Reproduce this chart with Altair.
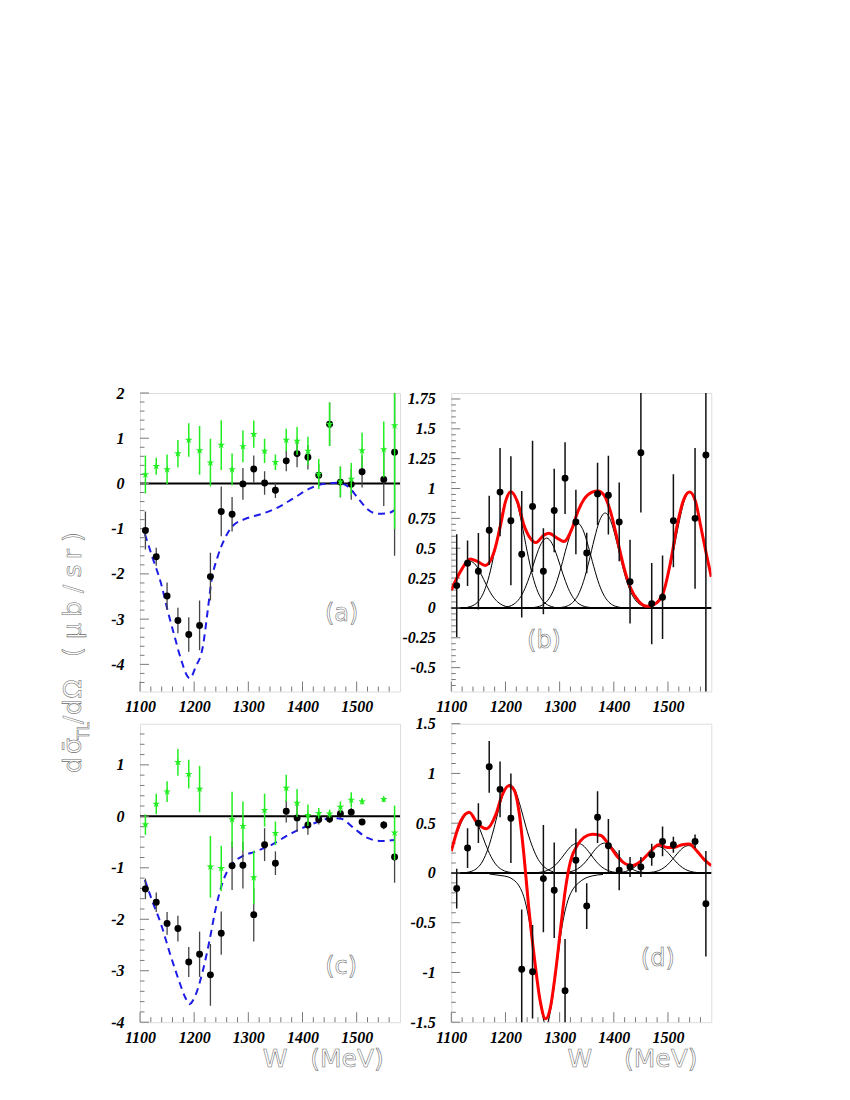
import altair as alt
import pandas as pd

# ---------------- data ----------------
W = [1110, 1130, 1150, 1170, 1190, 1210, 1230, 1250, 1270, 1290, 1310, 1330,
     1350, 1370, 1390, 1410, 1430, 1450, 1470, 1490, 1510, 1550, 1570]

# panel (a)
a_black = [-1.04, -1.62, -2.49, -3.03, -3.34, -3.14, -2.06, -0.62, -0.68, -0.01, 0.32, 0.01,
           -0.15, 0.50, 0.66, 0.58, 0.18, 1.31, 0.03, -0.02, 0.26, 0.09, 0.69]
a_black_err = [0.42, 0.20, 0.30, 0.28, 0.38, 0.55, 0.53, 0.55, 0.38, 0.35, 0.30, 0.26,
               0.17, 0.23, 0.30, 0.27, 0.25, 0.48, 0.34, 0.34, 0.35, 0.59, 2.29]
a_green = [0.20, 0.38, 0.31, 0.66, 0.96, 0.73, 0.46, 0.85, 0.31, 0.82, 1.09, 0.72,
           0.47, 0.96, 0.94, 0.72, 0.21, 1.31, 0.04, 0.10, 0.73, 0.75, 1.28]
a_green_err = [0.42, 0.19, 0.33, 0.30, 0.37, 0.54, 0.53, 0.55, 0.35, 0.35, 0.30, 0.27,
               0.17, 0.25, 0.31, 0.31, 0.33, 0.48, 0.34, 0.35, 0.39, 0.62, 2.28]
a_model_W = [1109, 1123, 1139, 1151, 1164, 1176, 1188, 1192, 1203, 1216, 1225, 1232, 1243,
             1256, 1271, 1293, 1323, 1354, 1385, 1416, 1440, 1465, 1483, 1502, 1520, 1539,
             1557, 1570]
a_model = [-1.12, -1.635, -2.22, -2.81, -3.39, -3.9, -4.27, -4.31, -4.05, -3.61, -2.81, -2.15,
           -1.635, -1.23, -0.94, -0.79, -0.68, -0.536, -0.316, -0.097, -0.009, 0.013, -0.06,
           -0.316, -0.57, -0.67, -0.66, -0.59]

# panel (b)
b_vals = [0.187, 0.374, 0.307, 0.65, 0.97, 0.73, 0.45, 0.85, 0.307, 0.816, 1.087, 0.72,
          0.46, 0.955, 0.944, 0.72, 0.22, 1.30, 0.036, 0.09, 0.73, 0.75, 1.28]
b_err = [0.43, 0.19, 0.32, 0.29, 0.37, 0.54, 0.53, 0.55, 0.36, 0.35, 0.30, 0.27,
         0.17, 0.26, 0.33, 0.33, 0.35, 0.50, 0.34, 0.35, 0.39, 0.59, 2.30]
b_fit_W = [1100, 1117, 1135, 1148, 1163, 1179, 1191, 1200, 1210, 1222, 1234, 1246, 1256,
           1271, 1280, 1296, 1308, 1323, 1333, 1345, 1360, 1371, 1382, 1394, 1406, 1419,
           1431, 1446, 1462, 1474, 1490, 1505, 1517, 1530, 1540, 1551, 1560, 1570, 1580]
b_fit = [0.15, 0.306, 0.41, 0.39, 0.356, 0.47, 0.695, 0.89, 0.973, 0.89, 0.695, 0.583, 0.547,
         0.61, 0.625, 0.583, 0.556, 0.667, 0.80, 0.91, 0.97, 0.98, 0.945, 0.806, 0.583, 0.333,
         0.167, 0.056, 0.014, 0.028, 0.11, 0.39, 0.695, 0.917, 0.97, 0.89, 0.695, 0.47, 0.26]
b_components = [
    ([1100, 1105, 1115, 1125, 1135, 1145, 1155, 1165, 1175, 1185, 1195, 1205, 1215],
     [0.146, 0.19, 0.283, 0.36, 0.39, 0.36, 0.283, 0.19, 0.108, 0.053, 0.022, 0.008, 0.002]),
    ([1130, 1140, 1150, 1160, 1170, 1180, 1190, 1200, 1210, 1220, 1230, 1240, 1250, 1260,
      1270, 1280, 1290],
     [0.006, 0.020, 0.055, 0.132, 0.271, 0.475, 0.708, 0.90, 0.975, 0.90, 0.708, 0.475,
      0.271, 0.132, 0.055, 0.020, 0.006]),
    ([1196, 1206, 1216, 1226, 1236, 1246, 1256, 1266, 1276, 1286, 1296, 1306, 1316, 1326,
      1336, 1346, 1356],
     [0.004, 0.012, 0.033, 0.079, 0.163, 0.285, 0.425, 0.54, 0.585, 0.54, 0.425, 0.285,
      0.163, 0.079, 0.033, 0.012, 0.004]),
    ([1253, 1263, 1273, 1283, 1293, 1303, 1313, 1323, 1333, 1343, 1353, 1363, 1373, 1383,
      1393, 1403, 1413],
     [0.004, 0.014, 0.040, 0.096, 0.197, 0.346, 0.515, 0.655, 0.71, 0.655, 0.515, 0.346,
      0.197, 0.096, 0.040, 0.014, 0.004]),
    ([1304, 1314, 1324, 1334, 1344, 1354, 1364, 1374, 1384, 1394, 1404, 1414, 1424, 1434,
      1444, 1454, 1464],
     [0.005, 0.016, 0.045, 0.107, 0.221, 0.387, 0.577, 0.734, 0.795, 0.734, 0.577, 0.387,
      0.221, 0.107, 0.045, 0.016, 0.005]),
    ([1460, 1470, 1480, 1490, 1500, 1510, 1520, 1530, 1540, 1550, 1560, 1570, 1580],
     [0.006, 0.019, 0.054, 0.131, 0.27, 0.472, 0.704, 0.895, 0.97, 0.895, 0.704, 0.472, 0.27]),
]

# panel (c)
c_black = [-1.41, -1.67, -2.08, -2.18, -2.83, -2.68, -3.08, -2.27, -0.96, -0.95, -1.91, -0.55,
           -0.91, 0.10, -0.03, -0.17, -0.06, -0.05, 0.05, 0.08, -0.11, -0.17, -0.79]
c_black_err = [0.20, 0.19, 0.22, 0.25, 0.29, 0.44, 0.60, 0.42, 0.47, 0.45, 0.52, 0.32,
               0.23, 0.22, 0.27, 0.19, 0.10, 0.08, 0.08, 0.08, 0.06, 0.08, 0.50]
c_green = [-0.16, 0.24, 0.48, 1.05, 0.82, 0.53, -0.98, -1.01, -0.06, -0.19, -1.19, 0.12,
           -0.33, 0.55, 0.26, 0.02, 0.06, 0.05, 0.18, 0.32, 0.29, 0.33, -0.32]
c_green_err = [0.20, 0.20, 0.20, 0.26, 0.28, 0.45, 0.60, 0.44, 0.54, 0.48, 0.52, 0.32,
               0.23, 0.26, 0.27, 0.21, 0.10, 0.08, 0.11, 0.15, 0.06, 0.05, 0.53]
c_model_W = [1109, 1123, 1139, 1154, 1170, 1185, 1191, 1203, 1216, 1228, 1240, 1253, 1268,
             1287, 1311, 1342, 1373, 1404, 1428, 1453, 1471, 1496, 1520, 1545, 1570]
c_model = [-1.235, -1.654, -2.1, -2.62, -3.135, -3.55, -3.65, -3.46, -3.0, -2.43, -1.78,
           -1.27, -0.946, -0.786, -0.69, -0.56, -0.367, -0.207, -0.11, -0.033, -0.046,
           -0.24, -0.42, -0.48, -0.46]

# panel (d)
d_vals = [-0.157, 0.25, 0.50, 1.067, 0.84, 0.55, -0.967, -0.993, -0.057, -0.173, -1.183,
          0.127, -0.333, 0.56, 0.273, 0.027, 0.06, 0.06, 0.183, 0.317, 0.283, 0.317, -0.31]
d_err = [0.20, 0.20, 0.20, 0.26, 0.28, 0.45, 0.60, 0.47, 0.54, 0.48, 0.52, 0.32,
         0.23, 0.26, 0.27, 0.20, 0.10, 0.10, 0.11, 0.15, 0.08, 0.07, 0.53]
d_fit_W = [1100, 1117, 1133, 1148, 1165, 1182, 1194, 1206, 1216, 1225, 1234, 1243, 1254,
           1264, 1274, 1283, 1292, 1302, 1311, 1320, 1333, 1345, 1360, 1376, 1391, 1406,
           1422, 1434, 1450, 1465, 1483, 1499, 1511, 1526, 1539, 1554, 1567, 1580]
d_fit = [0.22, 0.517, 0.61, 0.50, 0.444, 0.584, 0.784, 0.877, 0.834, 0.617, 0.184, -0.35,
         -0.883, -1.283, -1.466, -1.35, -1.016, -0.55, -0.15, 0.117, 0.28, 0.357, 0.39,
         0.377, 0.284, 0.167, 0.09, 0.074, 0.117, 0.20, 0.284, 0.257, 0.257, 0.284, 0.29,
         0.217, 0.134, 0.075]
d_components = [
    ([1100, 1103, 1113, 1123, 1133, 1143, 1153, 1163, 1173, 1183, 1193, 1203, 1213],
     [0.251, 0.292, 0.436, 0.554, 0.60, 0.554, 0.436, 0.292, 0.167, 0.081, 0.034, 0.012, 0.004]),
    ([1128, 1138, 1148, 1158, 1168, 1178, 1188, 1198, 1208, 1218, 1228, 1238, 1248, 1258,
      1268, 1278, 1288],
     [0.005, 0.018, 0.05, 0.12, 0.247, 0.433, 0.646, 0.821, 0.89, 0.83, 0.66, 0.46, 0.29,
      0.16, 0.08, 0.035, 0.012]),
    ([1170, 1190, 1205, 1215, 1225, 1235, 1245, 1255, 1265, 1275, 1285, 1295, 1305, 1315,
      1325, 1335, 1345, 1360, 1380],
     [-0.01, -0.025, -0.04, -0.07, -0.13, -0.26, -0.52, -0.92, -1.33, -1.53, -1.33, -0.92,
      -0.52, -0.28, -0.16, -0.10, -0.06, -0.03, -0.015]),
    ([1253, 1263, 1273, 1283, 1293, 1303, 1313, 1323, 1333, 1343, 1353, 1363, 1373, 1383,
      1393, 1403, 1413],
     [0.002, 0.006, 0.017, 0.041, 0.083, 0.146, 0.218, 0.277, 0.30, 0.277, 0.218, 0.146,
      0.083, 0.041, 0.017, 0.006, 0.002]),
    ([1303, 1313, 1323, 1333, 1343, 1353, 1363, 1373, 1383, 1393, 1403, 1413, 1423, 1433,
      1443, 1453, 1463],
     [0.002, 0.006, 0.017, 0.041, 0.083, 0.146, 0.218, 0.277, 0.30, 0.277, 0.218, 0.146,
      0.083, 0.041, 0.017, 0.006, 0.002]),
    ([1402, 1412, 1422, 1432, 1442, 1452, 1462, 1472, 1482, 1492, 1502, 1512, 1522, 1532,
      1542, 1552, 1562],
     [0.002, 0.005, 0.015, 0.036, 0.074, 0.129, 0.192, 0.245, 0.265, 0.245, 0.192, 0.129,
      0.074, 0.036, 0.015, 0.005, 0.002]),
    ([1458, 1468, 1478, 1488, 1498, 1508, 1518, 1528, 1538, 1548, 1558, 1568, 1578, 1580],
     [0.002, 0.006, 0.015, 0.037, 0.076, 0.134, 0.20, 0.254, 0.275, 0.254, 0.20, 0.134,
      0.076, 0.067]),
]

# axes / ticks
X_DOMAIN = [1100, 1580]
X_MAJOR = [1100, 1200, 1300, 1400, 1500]
X_MINOR = [1120, 1140, 1160, 1180, 1220, 1240, 1260, 1280, 1320, 1340, 1360, 1380,
           1420, 1440, 1460, 1480, 1520, 1540, 1560]
A_DOM, A_MAJ = [-4.6, 2.0], [-4, -3, -2, -1, 0, 1, 2]
B_DOM, B_MAJ = [-0.7, 1.8], [-0.5, -0.25, 0, 0.25, 0.5, 0.75, 1, 1.25, 1.5, 1.75]
C_DOM, C_MAJ = [-4.0, 1.8], [-4, -3, -2, -1, 0, 1]
D_DOM, D_MAJ = [-1.5, 1.5], [-1.5, -1, -0.5, 0, 0.5, 1, 1.5]
panel_labels = ["(a)", "(b)", "(c)", "(d)"]
# y-axis title, glyph by glyph (the original font is widely spaced)
y_title_glyphs = ["d", "\u03c3\u0304", "TL", "/", "d", "\u03a9",
                  "(", "\u03bc", "b", "/", "s", "r", ")"]
x_title_parts = ["W", "(MeV)"]


def minor_ticks(lo, hi, step, majors):
    n = int(round((hi - lo) / step))
    out = []
    for i in range(n + 1):
        v = round(lo + i * step, 3)
        if all(abs(v - m) > 1e-6 for m in majors):
            out.append(v)
    return out


A_MIN = minor_ticks(-4.4, 1.8, 0.2, A_MAJ)
B_MIN = minor_ticks(-0.65, 1.75, 0.05, B_MAJ)
C_MIN = minor_ticks(-3.8, 1.6, 0.2, C_MAJ)
D_MIN = minor_ticks(-1.4, 1.4, 0.1, D_MAJ)

# ---------------- styling ----------------
PW, PH = 260, 298.5
FRAME = "#9a9a9a"
TICKC = "#7a7a7a"
GREEN = "#22ee22"
BLUE = "#1c1ce6"
RED = "#ff0000"
STAR = ("M0,-1L0.2245,-0.309L0.951,-0.309L0.363,0.118L0.588,0.809L0,0.382"
        "L-0.588,0.809L-0.363,0.118L-0.951,-0.309L-0.2245,-0.309Z")
LABEL_FONT = dict(labelFont="Liberation Serif", labelFontSize=16, labelFontStyle="italic",
                  labelFontWeight="bold", labelColor="black")
HOLLOW = dict(font="DejaVu Sans", fill="white", stroke="#6a6a6a", strokeWidth=0.55)

# glyph placement of the rotated y title (offset across, centre along, font size)
Y_TITLE_POS = [(-59, 372, 25), (-59, 353, 25), (-51, 338, 15), (-59, 327, 25),
               (-59, 314, 25), (-59, 296, 25), (-59, 259, 25), (-59, 238, 25),
               (-59, 216, 25), (-59, 196, 25), (-59, 178, 25), (-59, 161, 25),
               (-59, 144, 25)]


def panel(ydom, ymaj, ymin, points, curves, texts):
    xs = alt.Scale(domain=X_DOMAIN, nice=False, zero=False)
    ys = alt.Scale(domain=ydom, nice=False, zero=False)
    xax = alt.Axis(values=X_MAJOR, ticks=False, tickSize=0, domain=False, grid=False,
                   labelPadding=7, labelExpr="datum.value + ''", labelFlush=False,
                   labelOverlap=False, title=None, **LABEL_FONT)
    yax = alt.Axis(values=ymaj, ticks=False, tickSize=0, domain=False, grid=False,
                   labelPadding=16, labelExpr="datum.value + ''", labelFlush=False,
                   labelOverlap=False, title=None, **LABEL_FONT)

    def X(f):
        return alt.X(f, type="quantitative", scale=xs, axis=xax)

    def Y(f):
        return alt.Y(f, type="quantitative", scale=ys, axis=yax)

    layers = []
    # zero line
    layers.append(alt.Chart(pd.DataFrame({"v": [0]})).mark_rule(color="black", strokeWidth=2)
                  .encode(y=Y("v")))
    # ticks (inside the frame)
    layers.append(alt.Chart(pd.DataFrame({"t": X_MINOR})).mark_rule(color=TICKC, strokeWidth=1)
                  .encode(x=X("t"), y=alt.value(PH), y2=alt.value(PH - 5)))
    layers.append(alt.Chart(pd.DataFrame({"t": X_MAJOR})).mark_rule(color=TICKC, strokeWidth=1)
                  .encode(x=X("t"), y=alt.value(PH), y2=alt.value(PH - 10)))
    layers.append(alt.Chart(pd.DataFrame({"t": ymin})).mark_rule(color=TICKC, strokeWidth=1)
                  .encode(y=Y("t"), x=alt.value(0), x2=alt.value(4.5)))
    layers.append(alt.Chart(pd.DataFrame({"t": ymaj})).mark_rule(color=TICKC, strokeWidth=1)
                  .encode(y=Y("t"), x=alt.value(0), x2=alt.value(9)))

    for kind, df in curves:
        if kind == "dash":
            layers.append(alt.Chart(df).mark_line(color=BLUE, strokeWidth=2, strokeDash=[7, 5],
                                                  interpolate="monotone", clip=True)
                          .encode(x=X("W"), y=Y("v")))
        elif kind == "comp":
            layers.append(alt.Chart(df).mark_line(color="black", strokeWidth=1,
                                                  interpolate="monotone", clip=True)
                          .encode(x=X("W"), y=Y("v"), detail="c:N"))
        elif kind == "fit":
            layers.append(alt.Chart(df).mark_line(color=RED, strokeWidth=3,
                                                  interpolate="monotone", clip=True)
                          .encode(x=X("W"), y=Y("v")))

    for vals, errs, color, barcolor, barw, kind in points:
        df = pd.DataFrame({"W": W, "v": vals,
                           "lo": [v - e for v, e in zip(vals, errs)],
                           "hi": [v + e for v, e in zip(vals, errs)]})
        layers.append(alt.Chart(df).mark_rule(color=barcolor, strokeWidth=barw, clip=True)
                      .encode(x=X("W"), y=Y("lo"), y2="hi"))
        if kind == "dot":
            layers.append(alt.Chart(df).mark_circle(color=color, size=48, opacity=1, clip=True)
                          .encode(x=X("W"), y=Y("v")))
        else:
            layers.append(alt.Chart(df).mark_point(shape=STAR, color=color, filled=True,
                                                   size=64, opacity=1, clip=True)
                          .encode(x=X("W"), y=Y("v")))

    for t, x, y, size, extra in texts:
        layers.append(alt.Chart(pd.DataFrame({"t": [t]})).mark_text(fontSize=size, **extra)
                      .encode(text="t:N", x=alt.value(x), y=alt.value(y)))

    return alt.layer(*layers).properties(width=PW, height=PH)


def curve_df(ws, vs):
    return pd.DataFrame({"W": ws, "v": vs})


def comp_df(comps):
    rows = []
    for i, (ws, vs) in enumerate(comps):
        for w, v in zip(ws, vs):
            rows.append({"c": f"g{i}", "W": w, "v": v})
    return pd.DataFrame(rows)


HC = dict(align="center", baseline="middle", **HOLLOW)
ROT = dict(align="center", baseline="alphabetic", angle=270, **HOLLOW)

title_texts = [(g, x, y, s, ROT) for g, (x, y, s) in zip(y_title_glyphs, Y_TITLE_POS)]

pa = panel(A_DOM, A_MAJ, A_MIN,
           points=[(a_black, a_black_err, "black", "#444444", 1.3, "dot"),
                   (a_green, a_green_err, GREEN, GREEN, 1.5, "star")],
           curves=[("dash", curve_df(a_model_W, a_model))],
           texts=[(panel_labels[0], 201.7, 220.8, 24, HC)] + title_texts)

pb = panel(B_DOM, B_MAJ, B_MIN,
           points=[(b_vals, b_err, "black", "#111111", 1.5, "dot")],
           curves=[("comp", comp_df(b_components)),
                   ("fit", curve_df(b_fit_W, b_fit))],
           texts=[(panel_labels[1], 92.7, 248.3, 24, HC)])

pc = panel(C_DOM, C_MAJ, C_MIN,
           points=[(c_black, c_black_err, "black", "#444444", 1.3, "dot"),
                   (c_green, c_green_err, GREEN, GREEN, 1.5, "star")],
           curves=[("dash", curve_df(c_model_W, c_model))],
           texts=[(panel_labels[2], 201.2, 243.3, 24, HC),
                  (x_title_parts[0], 135, 335, 25, HC),
                  (x_title_parts[1], 207, 335, 25, HC)])

pd_ = panel(D_DOM, D_MAJ, D_MIN,
            points=[(d_vals, d_err, "black", "#111111", 1.5, "dot")],
            curves=[("comp", comp_df(d_components)),
                    ("fit", curve_df(d_fit_W, d_fit))],
            texts=[(panel_labels[3], 206.5, 234.8, 24, HC),
                   (x_title_parts[0], 128.5, 335, 25, HC),
                   (x_title_parts[1], 209.5, 335, 25, HC)])

chart = (alt.concat(pa, pb, pc, pd_, columns=2,
                    spacing=alt.RowColnumber(row=31.7, column=51.3), bounds="flush")
         .properties(padding={"left": 52, "top": 376, "right": 20, "bottom": 20})
         .configure_view(stroke=FRAME, strokeWidth=1)
         .configure(background="white"))

chart.save("out.html", embed_options={"renderer": "svg", "actions": False})
